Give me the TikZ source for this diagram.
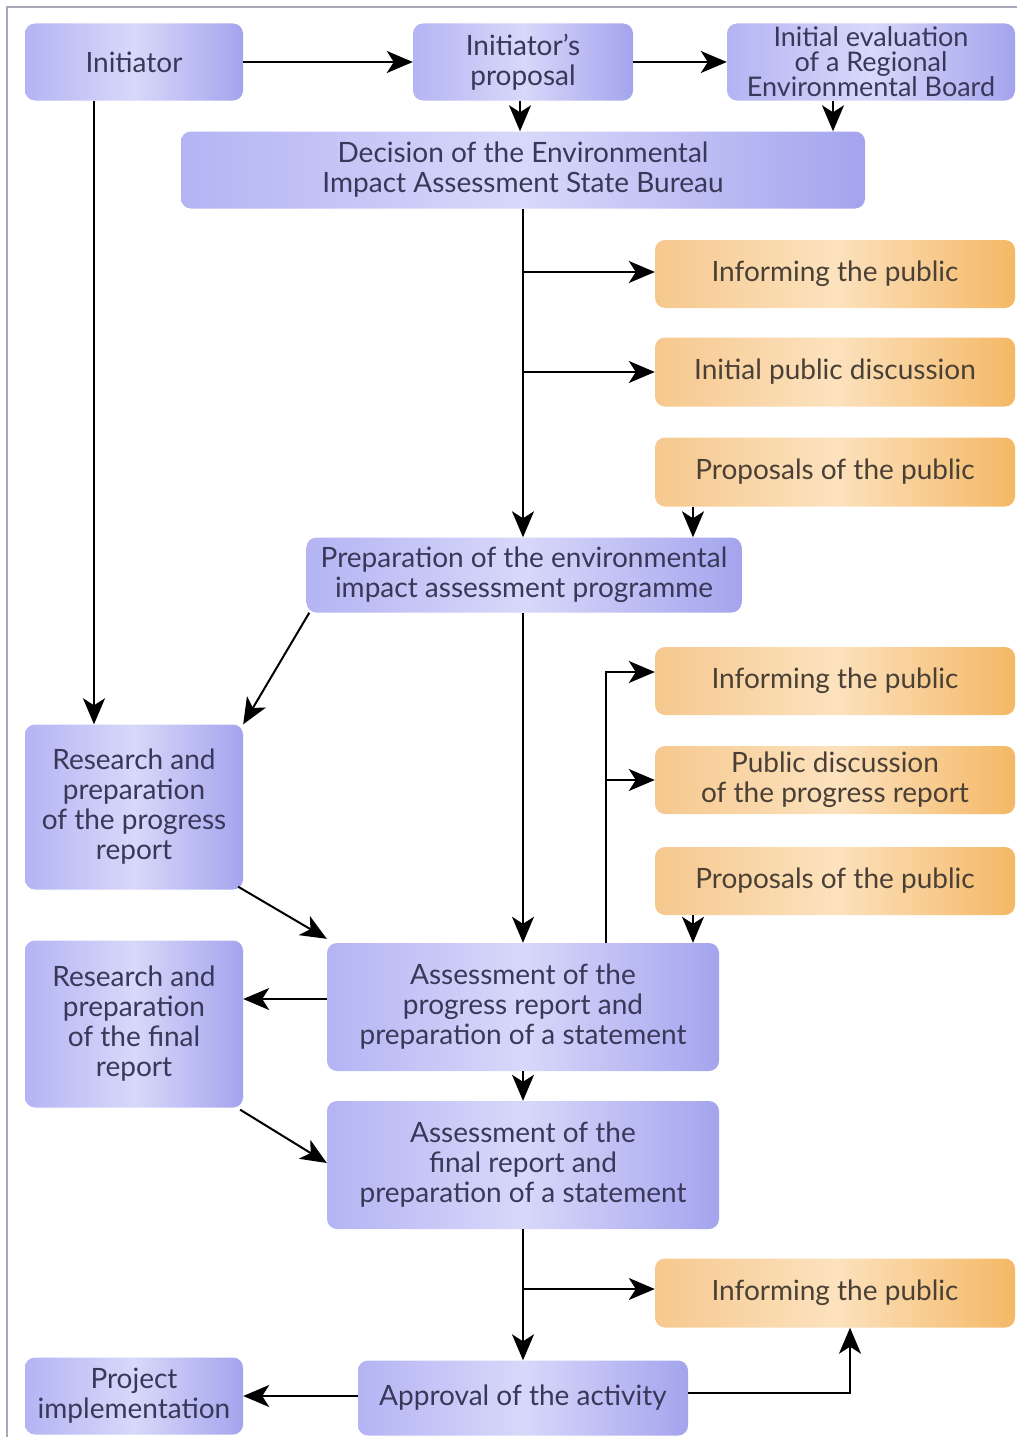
\documentclass[tikz,border=0pt]{standalone}
\usepackage{fontspec}
\setmainfont{Lato}
\usetikzlibrary{arrows.meta}
\definecolor{bL}{HTML}{B4B4F4}
\definecolor{bM}{HTML}{D8D8FA}
\definecolor{bR}{HTML}{A4A4EE}
\definecolor{oL}{HTML}{F6C88E}
\definecolor{oM}{HTML}{FCE2BE}
\definecolor{oR}{HTML}{F4B866}
\definecolor{txtb}{HTML}{383858}
\definecolor{txto}{HTML}{4A4036}
\definecolor{frame}{HTML}{A8A8B8}
\newcommand{\fsz}{\fontsize{28pt}{30pt}\selectfont}
\newcommand{\fszt}{\fontsize{27pt}{24.5pt}\selectfont}
\tikzset{
  bbox/.style={rounded corners=10pt, left color=bL, right color=bR, middle color=bM,
    text=txtb, align=center, inner sep=0pt, font=\fsz},
  obox/.style={rounded corners=10pt, left color=oL, right color=oR, middle color=oM,
    text=txto, align=center, inner sep=0pt, font=\fsz},
  arr/.style={-{Stealth[length=26pt,width=22pt,inset=7pt]}, line width=2pt, black},
}
\begin{document}
\begin{tikzpicture}[x=1pt,y=-1pt]
\useasboundingbox[fill=white] (0,0) rectangle (1017,1437);
\draw[frame, line width=1.5pt] (7,1437) -- (7,7) -- (1017,7);

% blue boxes
\node[bbox, minimum width=218pt, minimum height=77pt] (init) at (134,62) {Initiator};
\node[bbox, minimum width=220pt, minimum height=77pt] (prop) at (523,62) {Initiator’s\\proposal};
\node[bbox, minimum width=288pt, minimum height=77pt, font=\fszt] (eval) at (871,62) {Initial evaluation\\of a Regional\\Environmental Board};
\node[bbox, minimum width=684pt, minimum height=77pt] (dec) at (523,170) {Decision of the Environmental\\Impact Assessment State Bureau};
\node[bbox, minimum width=435pt, minimum height=75pt] (prep) at (524,575) {Preparation of the environmental\\impact assessment programme};
\node[bbox, minimum width=218pt, minimum height=165pt] (rp) at (134,807) {Research and\\preparation\\of the progress\\report};
\node[bbox, minimum width=392pt, minimum height=128pt] (ap) at (523,1007) {Assessment of the\\progress report and\\preparation of a statement};
\node[bbox, minimum width=218pt, minimum height=167pt] (rf) at (134,1024) {Research and\\preparation\\of the final\\report};
\node[bbox, minimum width=392pt, minimum height=128pt] (af) at (523,1165) {Assessment of the\\final report and\\preparation of a statement};
\node[bbox, minimum width=330pt, minimum height=75pt] (appr) at (523,1398) {Approval of the activity};
\node[bbox, minimum width=218pt, minimum height=77pt] (impl) at (134,1396) {Project\\implementation};

% orange boxes
\node[obox, minimum width=360pt, minimum height=68pt] (inf1) at (835,274) {Informing the public};
\node[obox, minimum width=360pt, minimum height=69pt] (ipd) at (835,372) {Initial public discussion};
\node[obox, minimum width=360pt, minimum height=69pt] (pp1) at (835,472) {Proposals of the public};
\node[obox, minimum width=360pt, minimum height=68pt] (inf2) at (835,681) {Informing the public};
\node[obox, minimum width=360pt, minimum height=68pt] (pdpr) at (835,780) {Public discussion\\of the progress report};
\node[obox, minimum width=360pt, minimum height=68pt] (pp2) at (835,881) {Proposals of the public};
\node[obox, minimum width=360pt, minimum height=69pt] (inf3) at (835,1293) {Informing the public};

% helper coordinates
\coordinate (t1) at ([yshift=2pt]inf1.west);
\coordinate (t2) at (ipd.west);
\coordinate (t4) at ([yshift=9pt]inf2.west);
\coordinate (t5) at (pdpr.west);
\coordinate (t7) at ([yshift=4pt]inf3.west);
\coordinate (up) at ([xshift=83pt]ap.north);

% connectors
\draw[arr] (init) -- (prop);
\draw[arr] (prop) -- (eval);
\draw[arr] ([xshift=-3pt]prop.south) -- ([xshift=-3pt]prop.south |- dec.north);
\draw[arr] ([xshift=-38pt]eval.south) -- ([xshift=-38pt]eval.south |- dec.north);
\draw[arr] ([xshift=-40pt]init.south) -- ([xshift=-40pt]init.south |- rp.north);

\draw[arr] (dec.south) -- (dec.south |- prep.north);
\draw[arr] (dec.south |- t1) -- (t1);
\draw[arr] (dec.south |- t2) -- (t2);
\draw[arr] ([xshift=-142pt]pp1.south) -- ([xshift=-142pt]pp1.south |- prep.north);

\draw[arr] ([xshift=3pt]prep.south west) -- (rp.north east);
\draw[arr] ([xshift=-1pt]prep.south) -- ([xshift=-1pt]prep.south |- ap.north);

\draw[arr] (up) |- (t4);
\draw[arr] (up |- t5) -- (t5);
\draw[arr] ([xshift=-142pt]pp2.south) -- ([xshift=-142pt]pp2.south |- ap.north);

\draw[arr] ([xshift=-5pt,yshift=3pt]rp.south east) -- ([yshift=4pt]ap.north west);
\draw[arr] ([yshift=8pt]ap.west) -- ([yshift=8pt]ap.west -| rf.east);
\draw[arr] (ap.south) -- (af.north);
\draw[arr] ([xshift=-3pt,yshift=-2pt]rf.south east) -- ([yshift=2pt]af.west);

\draw[arr] (af.south) -- (appr.north);
\draw[arr] (af.south |- t7) -- (t7);
\draw[arr] ([yshift=2pt]appr.west) -- ([yshift=2pt]appr.west -| impl.east);
\draw[arr] ([yshift=5pt]appr.east) -| ([xshift=15pt]inf3.south);
\end{tikzpicture}
\end{document}
